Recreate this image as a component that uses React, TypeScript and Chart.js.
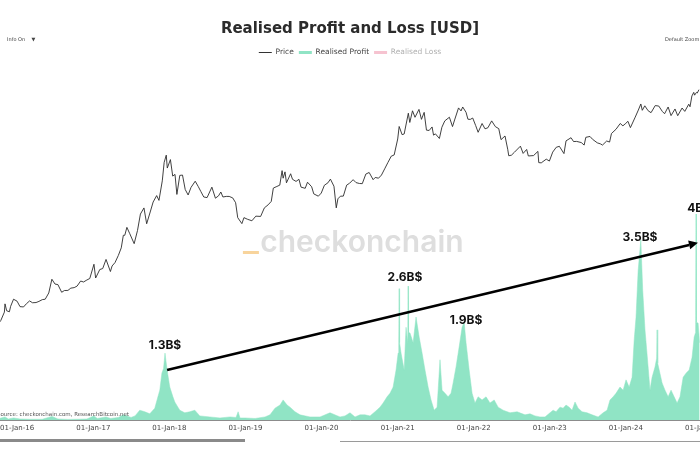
import React, { useEffect, useRef } from 'react';
import { Chart, registerables } from 'chart.js';

Chart.register(...registerables);

// ---------- DATA ----------
const PRICE_POINTS: [string, number][] = [
  ['2015-10-01', 237], ['2015-10-15', 262], ['2015-11-01', 325], ['2015-11-04', 403], ['2015-11-12', 337],
  ['2015-11-25', 328], ['2015-12-01', 378], ['2015-12-15', 455],
  ['2016-01-01', 432], ['2016-01-15', 375], ['2016-02-01', 372], ['2016-02-15', 405], ['2016-03-01', 435],
  ['2016-03-15', 415], ['2016-04-01', 417], ['2016-04-15', 430], ['2016-05-01', 450], ['2016-05-15', 455],
  ['2016-06-01', 535], ['2016-06-16', 765], ['2016-07-01', 675], ['2016-07-15', 665], ['2016-08-02', 545],
  ['2016-08-15', 570], ['2016-09-01', 572], ['2016-09-15', 607], ['2016-10-01', 615], ['2016-10-15', 640],
  ['2016-11-01', 730], ['2016-11-15', 712], ['2016-12-01', 750], ['2016-12-15', 780],
  ['2017-01-04', 1130], ['2017-01-12', 790], ['2017-02-01', 985], ['2017-02-15', 1010], ['2017-03-03', 1280],
  ['2017-03-24', 935], ['2017-04-01', 1080], ['2017-04-15', 1180], ['2017-05-01', 1420], ['2017-05-15', 1730],
  ['2017-05-25', 2400], ['2017-06-01', 2400], ['2017-06-11', 2950], ['2017-06-25', 2500], ['2017-07-16', 1930],
  ['2017-08-01', 2720], ['2017-08-15', 4170], ['2017-09-01', 4890], ['2017-09-14', 3240], ['2017-10-01', 4400],
  ['2017-10-15', 5700], ['2017-11-01', 6740], ['2017-11-12', 5950], ['2017-11-28', 9900], ['2017-12-07', 16000],
  ['2017-12-17', 19300], ['2017-12-22', 13800],
  ['2018-01-06', 17200], ['2018-01-17', 11200], ['2018-01-28', 11700], ['2018-02-06', 6950], ['2018-02-20', 11400],
  ['2018-03-05', 11500], ['2018-03-18', 7900], ['2018-04-01', 6850], ['2018-04-15', 8350], ['2018-05-05', 9800],
  ['2018-05-20', 8500], ['2018-06-01', 7500], ['2018-06-15', 6500], ['2018-07-01', 6400], ['2018-07-24', 8400],
  ['2018-08-10', 6300], ['2018-08-25', 6700], ['2018-09-05', 7400], ['2018-09-15', 6500], ['2018-10-01', 6600],
  ['2018-10-15', 6600], ['2018-11-01', 6350], ['2018-11-15', 5600], ['2018-11-25', 3800], ['2018-12-15', 3250],
  ['2018-12-25', 3800],
  ['2019-01-10', 3650], ['2019-02-01', 3500], ['2019-02-20', 3950], ['2019-03-15', 3920], ['2019-04-02', 4900],
  ['2019-04-20', 5300], ['2019-05-05', 5800], ['2019-05-15', 8200], ['2019-06-01', 8550], ['2019-06-15', 8850],
  ['2019-06-26', 12900], ['2019-07-01', 10600], ['2019-07-10', 12500], ['2019-07-17', 9400], ['2019-08-06', 11900],
  ['2019-08-15', 10300], ['2019-09-01', 9750], ['2019-09-15', 10300], ['2019-09-25', 8400], ['2019-10-15', 8150],
  ['2019-10-26', 9550], ['2019-11-15', 8480], ['2019-11-25', 7050], ['2019-12-17', 6640], ['2019-12-31', 7200],
  ['2020-01-15', 8820], ['2020-02-01', 9400], ['2020-02-13', 10350], ['2020-03-01', 8600], ['2020-03-12', 4900],
  ['2020-03-20', 6200], ['2020-04-01', 6640], ['2020-04-15', 6650], ['2020-05-01', 8850], ['2020-05-15', 9300],
  ['2020-06-01', 10200], ['2020-06-15', 9450], ['2020-07-01', 9240], ['2020-07-15', 9200], ['2020-08-01', 11800],
  ['2020-08-17', 12300], ['2020-09-05', 10200], ['2020-09-15', 10800], ['2020-10-01', 10600], ['2020-10-15', 11500],
  ['2020-11-01', 13750], ['2020-11-15', 15950], ['2020-12-01', 18800], ['2020-12-15', 19400],
  ['2021-01-01', 29400], ['2021-01-08', 40700], ['2021-01-22', 32900], ['2021-02-01', 33500], ['2021-02-21', 57500],
  ['2021-02-28', 45200], ['2021-03-13', 61200], ['2021-03-25', 51700], ['2021-04-13', 63500], ['2021-04-25', 49000],
  ['2021-05-08', 58800], ['2021-05-19', 37000], ['2021-06-01', 36700], ['2021-06-15', 40200], ['2021-06-22', 32500],
  ['2021-07-01', 33600], ['2021-07-20', 29800], ['2021-08-01', 39900], ['2021-08-15', 47100], ['2021-09-06', 51800],
  ['2021-09-21', 40600], ['2021-10-01', 48200], ['2021-10-20', 66000], ['2021-11-01', 61000], ['2021-11-09', 67600],
  ['2021-11-25', 58900], ['2021-12-04', 49200], ['2021-12-15', 48900], ['2021-12-27', 50700],
  ['2022-01-10', 41800], ['2022-01-22', 35000], ['2022-02-10', 44000], ['2022-02-24', 38300], ['2022-03-10', 39400],
  ['2022-03-28', 47100], ['2022-04-15', 40500], ['2022-05-01', 38500], ['2022-05-12', 28900], ['2022-05-31', 31800],
  ['2022-06-13', 22500], ['2022-06-18', 19000], ['2022-07-01', 19300], ['2022-07-15', 20800], ['2022-08-13', 24400],
  ['2022-08-26', 20200], ['2022-09-12', 22400], ['2022-09-20', 18900], ['2022-10-15', 19100], ['2022-11-05', 21300],
  ['2022-11-09', 15900], ['2022-11-21', 15800], ['2022-12-15', 17400], ['2022-12-30', 16550],
  ['2023-01-15', 20900], ['2023-02-01', 23700], ['2023-02-16', 24300], ['2023-03-10', 20100], ['2023-03-20', 28000],
  ['2023-04-13', 30400], ['2023-04-25', 27500], ['2023-05-10', 27600], ['2023-06-01', 26800], ['2023-06-15', 25100],
  ['2023-06-23', 30700], ['2023-07-13', 31400], ['2023-07-25', 29200], ['2023-08-17', 26600], ['2023-09-01', 25900],
  ['2023-09-11', 25100], ['2023-10-01', 27900], ['2023-10-15', 27150], ['2023-10-24', 33900], ['2023-11-15', 37900],
  ['2023-12-05', 44000], ['2023-12-18', 41400],
  ['2024-01-01', 44200], ['2024-01-11', 46600], ['2024-01-23', 39500], ['2024-02-15', 51900], ['2024-03-01', 62400],
  ['2024-03-13', 73100], ['2024-03-20', 62000], ['2024-04-01', 69700], ['2024-04-17', 61300], ['2024-05-01', 58300],
  ['2024-05-21', 70100], ['2024-06-07', 69300], ['2024-06-24', 60300], ['2024-07-05', 56700], ['2024-07-22', 67600],
  ['2024-08-05', 54000], ['2024-08-24', 64200], ['2024-09-06', 53900], ['2024-09-27', 65800], ['2024-10-10', 60300],
  ['2024-10-29', 72700], ['2024-11-04', 68000], ['2024-11-13', 90000], ['2024-11-22', 98900], ['2024-11-26', 91900],
  ['2024-12-05', 98800], ['2024-12-09', 97300], ['2024-12-17', 106100],
];

// Realised profit, billions of USD
const PROFIT_POINTS: [string, number][] = [
  ['2015-10-01', 0.02], ['2015-11-04', 0.06], ['2015-11-20', 0.02], ['2015-12-15', 0.04], ['2016-01-15', 0.02],
  ['2016-03-01', 0.015], ['2016-05-01', 0.015], ['2016-06-17', 0.07], ['2016-07-15', 0.02], ['2016-09-01', 0.012],
  ['2016-10-15', 0.015], ['2016-12-01', 0.02], ['2017-01-04', 0.08], ['2017-01-20', 0.03], ['2017-03-03', 0.06],
  ['2017-03-25', 0.03], ['2017-05-01', 0.05], ['2017-05-25', 0.1], ['2017-06-12', 0.08], ['2017-07-01', 0.05],
  ['2017-07-20', 0.08], ['2017-08-12', 0.19], ['2017-09-05', 0.16], ['2017-09-29', 0.12], ['2017-10-23', 0.23],
  ['2017-11-07', 0.45], ['2017-11-16', 0.58], ['2017-11-26', 0.91], ['2017-12-04', 1.0], ['2017-12-11', 1.3],
  ['2017-12-21', 0.97], ['2018-01-03', 0.64], ['2018-01-18', 0.45], ['2018-01-27', 0.35], ['2018-02-11', 0.25],
  ['2018-02-20', 0.19], ['2018-03-16', 0.14], ['2018-04-09', 0.16], ['2018-05-03', 0.19], ['2018-05-27', 0.08],
  ['2018-07-14', 0.06], ['2018-09-01', 0.04], ['2018-10-19', 0.06], ['2018-11-17', 0.05], ['2018-11-27', 0.16],
  ['2018-12-06', 0.04], ['2018-12-30', 0.04], ['2019-02-16', 0.03], ['2019-04-05', 0.06], ['2019-04-29', 0.1],
  ['2019-05-23', 0.23], ['2019-06-16', 0.29], ['2019-07-01', 0.39], ['2019-07-20', 0.29], ['2019-08-03', 0.25],
  ['2019-08-27', 0.16], ['2019-09-20', 0.1], ['2019-11-07', 0.06], ['2019-12-25', 0.06], ['2020-02-11', 0.14],
  ['2020-03-30', 0.06], ['2020-04-23', 0.08], ['2020-05-17', 0.14], ['2020-06-10', 0.06], ['2020-07-04', 0.1],
  ['2020-07-28', 0.1], ['2020-08-21', 0.08], ['2020-09-14', 0.16], ['2020-10-08', 0.25], ['2020-10-23', 0.33],
  ['2020-11-11', 0.45], ['2020-11-25', 0.52], ['2020-12-10', 0.64], ['2020-12-24', 0.97], ['2021-01-03', 1.3],
  ['2021-01-06', 1.5], ['2021-01-08', 2.55], ['2021-01-10', 1.5], ['2021-01-17', 1.3], ['2021-02-01', 0.97],
  ['2021-02-10', 1.8], ['2021-02-18', 1.5], ['2021-02-20', 2.6], ['2021-02-22', 1.7], ['2021-03-01', 1.69],
  ['2021-03-16', 1.5], ['2021-03-30', 2.0], ['2021-04-14', 1.61], ['2021-04-28', 1.3], ['2021-05-12', 0.97],
  ['2021-05-27', 0.64], ['2021-06-10', 0.39], ['2021-06-25', 0.19], ['2021-07-09', 0.25], ['2021-07-23', 1.17],
  ['2021-08-02', 0.58], ['2021-08-16', 0.52], ['2021-08-31', 0.45], ['2021-09-14', 0.52], ['2021-09-24', 0.72],
  ['2021-10-08', 1.03], ['2021-10-23', 1.42], ['2021-11-06', 1.8], ['2021-11-16', 1.9], ['2021-11-25', 1.5],
  ['2021-12-10', 0.97], ['2021-12-24', 0.52], ['2022-01-07', 0.33], ['2022-01-22', 0.45], ['2022-02-10', 0.39],
  ['2022-03-01', 0.45], ['2022-03-20', 0.33], ['2022-04-09', 0.39], ['2022-04-28', 0.25], ['2022-05-22', 0.19],
  ['2022-06-24', 0.14], ['2022-07-28', 0.16], ['2022-09-04', 0.1], ['2022-09-28', 0.12], ['2022-10-22', 0.08],
  ['2022-11-15', 0.06], ['2022-12-09', 0.06], ['2023-01-02', 0.14], ['2023-01-17', 0.19], ['2023-01-31', 0.16],
  ['2023-02-19', 0.25], ['2023-03-06', 0.23], ['2023-03-20', 0.29], ['2023-04-04', 0.25], ['2023-04-18', 0.19],
  ['2023-05-02', 0.35], ['2023-05-17', 0.23], ['2023-06-05', 0.16], ['2023-06-29', 0.14], ['2023-07-23', 0.1],
  ['2023-08-21', 0.06], ['2023-09-14', 0.14], ['2023-10-03', 0.19], ['2023-10-17', 0.39], ['2023-11-01', 0.45],
  ['2023-11-15', 0.52], ['2023-12-04', 0.64], ['2023-12-19', 0.58], ['2024-01-02', 0.78], ['2024-01-17', 0.64],
  ['2024-01-31', 0.83], ['2024-02-10', 1.55], ['2024-02-19', 2.0], ['2024-02-29', 2.9], ['2024-03-13', 3.5],
  ['2024-03-22', 2.52], ['2024-04-02', 1.75], ['2024-04-17', 1.03], ['2024-04-26', 0.58], ['2024-05-06', 0.83],
  ['2024-05-20', 1.03], ['2024-05-28', 1.2], ['2024-05-30', 1.75], ['2024-06-02', 1.1], ['2024-06-23', 0.72],
  ['2024-07-07', 0.58], ['2024-07-22', 0.45], ['2024-08-05', 0.58], ['2024-08-20', 0.45], ['2024-09-03', 0.33],
  ['2024-09-17', 0.45], ['2024-10-02', 0.83], ['2024-10-16', 0.91], ['2024-10-31', 0.97], ['2024-11-14', 1.22],
  ['2024-11-24', 1.61], ['2024-12-01', 1.7], ['2024-12-03', 4.0], ['2024-12-05', 1.9], ['2024-12-13', 1.88],
  ['2024-12-20', 1.5],
];

const TICK_YEARS = [2016, 2017, 2018, 2019, 2020, 2021, 2022, 2023, 2024, 2025];
const MONTHS = ['Jan', 'Feb', 'Mar', 'Apr', 'May', 'Jun', 'Jul', 'Aug', 'Sep', 'Oct', 'Nov', 'Dec'];

// [text, date, value in B$]
const PEAK_LABELS: [string, string, number][] = [
  ['1.3B$', '2017-12-11', 1.44],
  ['2.6B$', '2021-02-05', 2.76],
  ['1.9B$', '2021-11-25', 1.94],
  ['3.5B$', '2024-03-09', 3.55],
  ['4B$', '2024-12-18', 4.1],
];
const ARROW_FROM: [string, number] = ['2017-12-21', 0.97];
const ARROW_TO: [string, number] = ['2024-12-12', 3.44];

const X_MIN = '2015-10-11';
const X_MAX = '2024-12-22';
const PRICE_MIN = 19.64;
const PRICE_MAX = 195100;
const PROFIT_MAX = 6.869;

const MINT = '#90e4c5';
const PINK = '#f6c3d0';
const FONT = "'DejaVu Sans', Verdana, sans-serif";

const ts = (s: string) => {
  const [y, m, d] = s.split('-').map(Number);
  return Date.UTC(y, m - 1, d);
};

const fmtTick = (v: number) => {
  const d = new Date(v);
  const dd = String(d.getUTCDate()).padStart(2, '0');
  const yy = String(d.getUTCFullYear() % 100).padStart(2, '0');
  return `${dd}-${MONTHS[d.getUTCMonth()]}-${yy}`;
};

const overlayPlugin = {
  id: 'overlay',
  beforeDatasetsDraw(chart: any) {
    const { ctx, chartArea } = chart;
    ctx.save();
    const cx = chartArea.left + chartArea.width * 0.517;
    ctx.font = "600 30px Inter, 'DejaVu Sans', sans-serif";
    ctx.fillStyle = '#dedede';
    ctx.textAlign = 'center';
    ctx.textBaseline = 'alphabetic';
    ctx.fillText('checkonchain', cx, 252);
    ctx.fillStyle = '#f8d49c';
    ctx.fillRect(cx - 119, 251, 16, 3);
    ctx.restore();
  },
  afterDatasetsDraw(chart: any) {
    const { ctx, chartArea } = chart;
    const xs = chart.scales.x;
    const ys = chart.scales.y1;
    ctx.save();
    // x tick labels
    ctx.font = `7px ${FONT}`;
    ctx.fillStyle = '#444';
    ctx.textAlign = 'center';
    ctx.textBaseline = 'middle';
    TICK_YEARS.forEach((y) => {
      const v = Date.UTC(y, 0, 1);
      ctx.fillText(fmtTick(v), xs.getPixelForValue(v), chartArea.bottom + 8);
    });
    // arrow
    const x0 = xs.getPixelForValue(ts(ARROW_FROM[0]));
    const y0 = ys.getPixelForValue(ARROW_FROM[1]);
    const x1 = xs.getPixelForValue(ts(ARROW_TO[0]));
    const y1 = ys.getPixelForValue(ARROW_TO[1]);
    const ang = Math.atan2(y1 - y0, x1 - x0);
    const head = 9;
    const hw = 4.5;
    const bx = x1 - head * Math.cos(ang);
    const by = y1 - head * Math.sin(ang);
    ctx.strokeStyle = '#000';
    ctx.lineWidth = 2.6;
    ctx.lineCap = 'butt';
    ctx.beginPath();
    ctx.moveTo(x0, y0);
    ctx.lineTo(bx, by);
    ctx.stroke();
    ctx.fillStyle = '#000';
    ctx.beginPath();
    ctx.moveTo(x1, y1);
    ctx.lineTo(bx + hw * Math.sin(ang), by - hw * Math.cos(ang));
    ctx.lineTo(bx - hw * Math.sin(ang), by + hw * Math.cos(ang));
    ctx.closePath();
    ctx.fill();
    // peak labels
    ctx.font = "bold 12px Inter, Roboto, sans-serif";
    ctx.fillStyle = '#111';
    ctx.textAlign = 'center';
    ctx.textBaseline = 'middle';
    PEAK_LABELS.forEach(([t, d, v]) => {
      ctx.fillText(t, xs.getPixelForValue(ts(d)), ys.getPixelForValue(v));
    });
    // source
    ctx.font = `5.5px ${FONT}`;
    ctx.fillStyle = '#555';
    ctx.textAlign = 'left';
    ctx.fillText('Source: checkonchain.com, ResearchBitcoin.net', -3, 415);
    ctx.restore();
  },
};

export default function App() {
  const ref = useRef<HTMLCanvasElement | null>(null);

  useEffect(() => {
    if (!ref.current) return;
    const chart = new Chart(ref.current, {
      type: 'line',
      data: {
        datasets: [
          {
            label: 'Price',
            data: PRICE_POINTS.map(([d, v]) => ({ x: ts(d), y: v })),
            yAxisID: 'y',
            borderColor: '#2b2b2b',
            borderWidth: 0.9,
            pointRadius: 0,
            fill: false,
            tension: 0,
            order: 1,
          },
          {
            label: 'Realised Profit',
            data: PROFIT_POINTS.map(([d, v]) => ({ x: ts(d), y: v })),
            yAxisID: 'y1',
            borderColor: MINT,
            backgroundColor: MINT,
            borderWidth: 0.5,
            pointRadius: 0,
            fill: 'origin',
            tension: 0,
            order: 2,
          },
        ],
      },
      options: {
        responsive: false,
        animation: false,
        devicePixelRatio: 1,
        layout: { padding: { left: 0, right: 0, top: 0, bottom: 30 }, autoPadding: false },
        plugins: {
          title: {
            display: true,
            text: 'Realised Profit and Loss [USD]',
            color: '#2b2b2b',
            font: { family: FONT, size: 15, weight: 'bold' },
            padding: { top: 20, bottom: 5.75 },
          },
          legend: {
            display: true,
            position: 'top',
            onClick: () => {},
            labels: {
              usePointStyle: true,
              pointStyleWidth: 13,
              boxHeight: 7.5,
              padding: 5,
              color: '#444',
              font: { family: FONT, size: 7.5 },
              generateLabels: () => [
                { text: 'Price', strokeStyle: '#333', fillStyle: '#333', lineWidth: 1, pointStyle: 'line', fontColor: '#444', hidden: false, datasetIndex: 0 },
                { text: 'Realised Profit', strokeStyle: MINT, fillStyle: MINT, lineWidth: 3, pointStyle: 'line', fontColor: '#444', hidden: false, datasetIndex: 1 },
                { text: 'Realised Loss', strokeStyle: PINK, fillStyle: PINK, lineWidth: 3, pointStyle: 'line', fontColor: '#b0b0b0', hidden: false, datasetIndex: 2 },
              ],
            },
          },
          tooltip: { enabled: false },
        },
        scales: {
          x: {
            type: 'linear',
            min: ts(X_MIN),
            max: ts(X_MAX),
            grid: { display: false, drawTicks: false },
            border: { display: true, color: '#8c8c8c', width: 1 },
            ticks: { display: false },
          },
          y: { type: 'logarithmic', display: false, min: PRICE_MIN, max: PRICE_MAX, bounds: 'data' },
          y1: { type: 'linear', display: false, min: 0, max: PROFIT_MAX },
        },
      } as any,
      plugins: [overlayPlugin],
    });
    return () => chart.destroy();
  }, []);

  const small: React.CSSProperties = { position: 'absolute', fontFamily: FONT, fontSize: 5, color: '#444', whiteSpace: 'nowrap', lineHeight: '6px' };

  return (
    <div style={{ position: 'fixed', left: 0, top: 0, width: 700, height: 450, background: '#fff', overflow: 'hidden' }}>
      <canvas ref={ref} width={700} height={450} style={{ display: 'block' }} />
      <div style={{ ...small, left: 7, top: 36 }}>Info On&nbsp;&nbsp;&nbsp;&nbsp;▼</div>
      <div style={{ ...small, left: 665, top: 36 }}>Default Zoom</div>
      <div style={{ position: 'absolute', left: 0, top: 439, width: 245, height: 3, background: '#8a8a8a' }} />
      <div style={{ position: 'absolute', left: 340, top: 441, width: 360, height: 1, background: '#9a9a9a' }} />
    </div>
  );
}
